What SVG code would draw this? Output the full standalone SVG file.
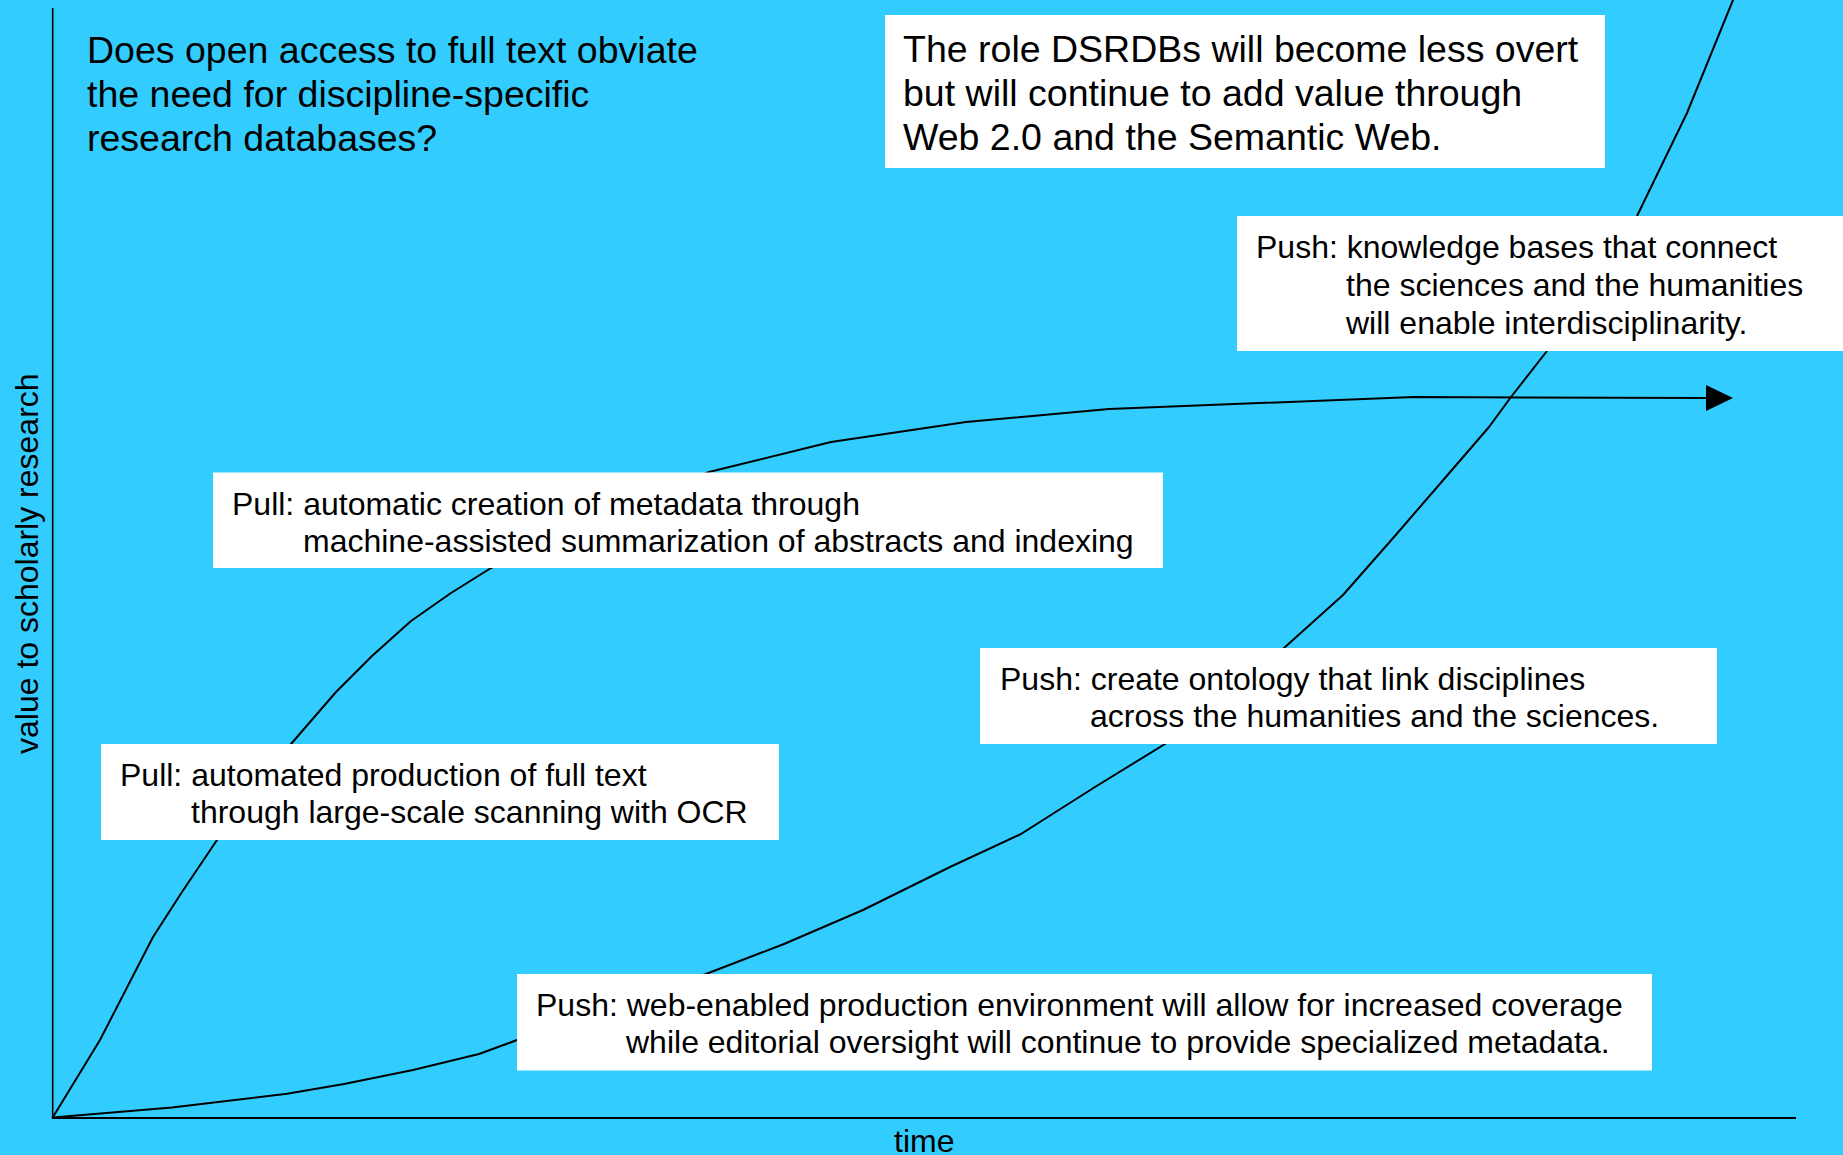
<svg xmlns="http://www.w3.org/2000/svg" width="1843" height="1155" viewBox="0 0 1843 1155">
<style>
.big{font-family:"Liberation Sans",Arial,sans-serif;font-size:37.5px;fill:#000}
.t{font-family:"Liberation Sans",Arial,sans-serif;font-size:32px;fill:#000}
.box{fill:#ffffff}
.curve{fill:none;stroke:#000;stroke-width:2;stroke-linejoin:round;stroke-linecap:round}
.axis{fill:none;stroke:#000}
</style>
<defs>
<marker id="arrow" markerWidth="28" markerHeight="28" refX="0" refY="13" orient="auto" markerUnits="userSpaceOnUse">
<path d="M0,0 L27,13 L0,26 Z" fill="#000"/>
</marker>
</defs>
<rect x="0" y="0" width="1843" height="1155" fill="#33CCFF"/>
<g id="axes">
<line class="axis" x1="52.7" y1="8" x2="52.7" y2="1118" stroke-width="1.6"/>
<line class="axis" x1="52" y1="1118" x2="1796" y2="1118" stroke-width="2"/>
</g>
<g id="axis-labels">
<text class="t" transform="translate(38,754) rotate(-90)">value to scholarly research</text>
<text class="t" x="894" y="1152">time</text>
</g>
<g id="connectors">
<polyline id="pull-curve" class="curve" marker-end="url(#arrow)" points="52.7,1117.5 100,1040 153,937 182,892 217,840 250,792 291,744 336,692 372,656 411,621 451,593 491,568 600,518 709,472 831,442 966,422 1109,409 1414,397 1706,398"/>
<polyline id="push-curve" class="curve" stroke-width="1.8" points="52.7,1117.5 172,1107.5 287,1093.7 344,1084 413,1070 479,1054 517,1040 600,1010 650,993 706,974 784,944 863,910 950,867 1021,834 1095,787 1165,744 1225,697 1284,648 1343,595 1394,537 1445,478 1489,427 1511,397 1547,351 1590,290 1637,216 1687,113 1733,0 1740,-16"/>
</g>
<g id="title">
<text class="big" x="87" y="62.5">Does open access to full text obviate</text>
<text class="big" x="87" y="106.5">the need for discipline-specific</text>
<text class="big" x="87" y="150.5">research databases?</text>
</g>
<g id="node-role">
<rect class="box" x="885" y="15" width="720" height="153"/>
<text class="big" x="903" y="61.5">The role DSRDBs will become less overt</text>
<text class="big" x="903" y="106">but will continue to add value through</text>
<text class="big" x="903" y="150">Web 2.0 and the Semantic Web.</text>
</g>
<g id="node-knowledge">
<rect class="box" x="1237" y="216" width="606" height="135"/>
<text class="t" x="1256" y="258">Push: knowledge bases that connect</text>
<text class="t" x="1346" y="296">the sciences and the humanities</text>
<text class="t" x="1346" y="333.5">will enable interdisciplinarity.</text>
</g>
<g id="node-pull-metadata">
<rect class="box" x="213" y="472.5" width="950" height="95.5"/>
<text class="t" x="232" y="515">Pull: automatic creation of metadata through</text>
<text class="t" x="303" y="552">machine-assisted summarization of abstracts and indexing</text>
</g>
<g id="node-ontology">
<rect class="box" x="980" y="648" width="737" height="96"/>
<text class="t" x="1000" y="690">Push: create ontology that link disciplines</text>
<text class="t" x="1090" y="727">across the humanities and the sciences.</text>
</g>
<g id="node-pull-ocr">
<rect class="box" x="101" y="744" width="678" height="96"/>
<text class="t" x="120" y="786">Pull: automated production of full text</text>
<text class="t" x="191" y="823">through large-scale scanning with OCR</text>
</g>
<g id="node-web">
<rect class="box" x="517" y="974" width="1135" height="96.5"/>
<text class="t" x="536" y="1015.5">Push: web-enabled production environment will allow for increased coverage</text>
<text class="t" x="626" y="1052.5">while editorial oversight will continue to provide specialized metadata.</text>
</g>
</svg>
